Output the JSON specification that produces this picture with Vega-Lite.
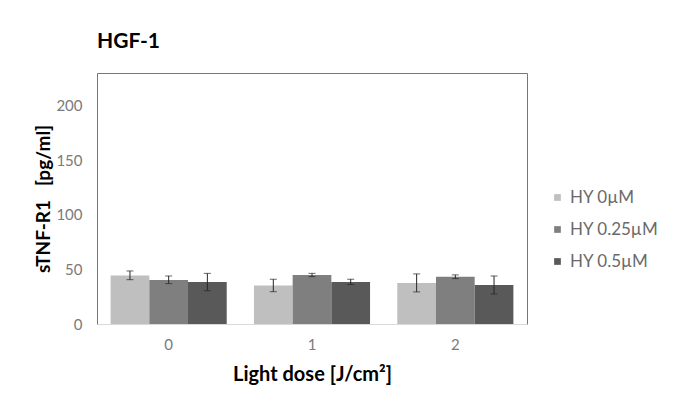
{
  "$schema": "https://vega.github.io/schema/vega-lite/v6.json",
  "autosize": {"type": "none"},
  "padding": {"left": 97, "top": 73, "right": 148, "bottom": 85},
  "width": 430,
  "height": 251,
  "background": "white",
  "title": {"text": "HGF-1", "anchor": "start", "frame": "group", "offset": 21, "fontSize": 21, "fontWeight": "bold", "font": "Lato", "color": "#000000"},
  "data": {"values": [
    {"dose": "0", "group": "HY 0µM", "value": 44.5, "lo": 40.6, "hi": 48.6},
    {"dose": "0", "group": "HY 0.25µM", "value": 40.3, "lo": 37.0, "hi": 44.0},
    {"dose": "0", "group": "HY 0.5µM", "value": 38.5, "lo": 30.5, "hi": 46.4},
    {"dose": "1", "group": "HY 0µM", "value": 35.3, "lo": 29.6, "hi": 41.0},
    {"dose": "1", "group": "HY 0.25µM", "value": 44.8, "lo": 43.4, "hi": 46.4},
    {"dose": "1", "group": "HY 0.5µM", "value": 38.6, "lo": 36.3, "hi": 41.0},
    {"dose": "2", "group": "HY 0µM", "value": 37.5, "lo": 29.4, "hi": 45.9},
    {"dose": "2", "group": "HY 0.25µM", "value": 43.2, "lo": 41.6, "hi": 45.0},
    {"dose": "2", "group": "HY 0.5µM", "value": 35.8, "lo": 27.5, "hi": 44.0}
  ]},
  "encoding": {
    "x": {"field": "dose", "type": "nominal", "scale": {"paddingInner": 0.19, "paddingOuter": 0.095},
      "axis": {"title": "Light dose [J/cm²]", "labelAngle": 0, "ticks": false, "labelPadding": 13, "domainColor": "#d9d9d9", "labelColor": "#7a7a7a", "labelFontSize": 15, "titleFontSize": 20, "titlePadding": 12, "titleFont": "Lato", "labelFont": "Lato", "titleFontWeight": "bold", "titleColor": "#000000"}},
    "xOffset": {"field": "group", "type": "nominal", "sort": ["HY 0µM", "HY 0.25µM", "HY 0.5µM"], "scale": {"paddingInner": 0, "paddingOuter": 0}}
  },
  "layer": [
    {"mark": {"type": "bar"},
     "encoding": {
       "y": {"field": "value", "type": "quantitative", "scale": {"domain": [0, 230], "nice": false},
         "axis": {"title": "sTNF-R1\u00a0\u00a0\u00a0[pg/ml]", "values": [0, 50, 100, 150, 200], "grid": false, "domain": false, "ticks": false, "labelPadding": 15, "labelColor": "#7a7a7a", "labelFontSize": 15, "labelFont": "Lato", "titleFont": "Lato", "titleFontSize": 19, "titleFontWeight": "bold", "titleColor": "#000000", "titlePadding": 2}},
       "color": {"field": "group", "type": "nominal", "sort": ["HY 0µM", "HY 0.25µM", "HY 0.5µM"],
         "scale": {"domain": ["HY 0µM", "HY 0.25µM", "HY 0.5µM"], "range": ["#bfbfbf", "#7f7f7f", "#595959"]},
         "legend": {"title": null, "orient": "none", "legendX": 452, "legendY": 116, "symbolType": "square", "symbolSize": 45, "symbolStrokeWidth": 0, "labelFontSize": 17, "labelFont": "Lato", "labelColor": "#6a6a6a", "rowPadding": 14, "labelOffset": 4}}
     }},
    {"mark": {"type": "rule", "color": "#262626", "strokeWidth": 1},
     "encoding": {"y": {"field": "lo", "type": "quantitative"}, "y2": {"field": "hi"}}},
    {"mark": {"type": "tick", "color": "#262626", "thickness": 1, "size": 7},
     "encoding": {"y": {"field": "lo", "type": "quantitative"}}},
    {"mark": {"type": "tick", "color": "#262626", "thickness": 1, "size": 7},
     "encoding": {"y": {"field": "hi", "type": "quantitative"}}}
  ],
  "config": {
    "view": {"stroke": "#767676", "strokeWidth": 1},
    "font": "Lato"
  }
}
